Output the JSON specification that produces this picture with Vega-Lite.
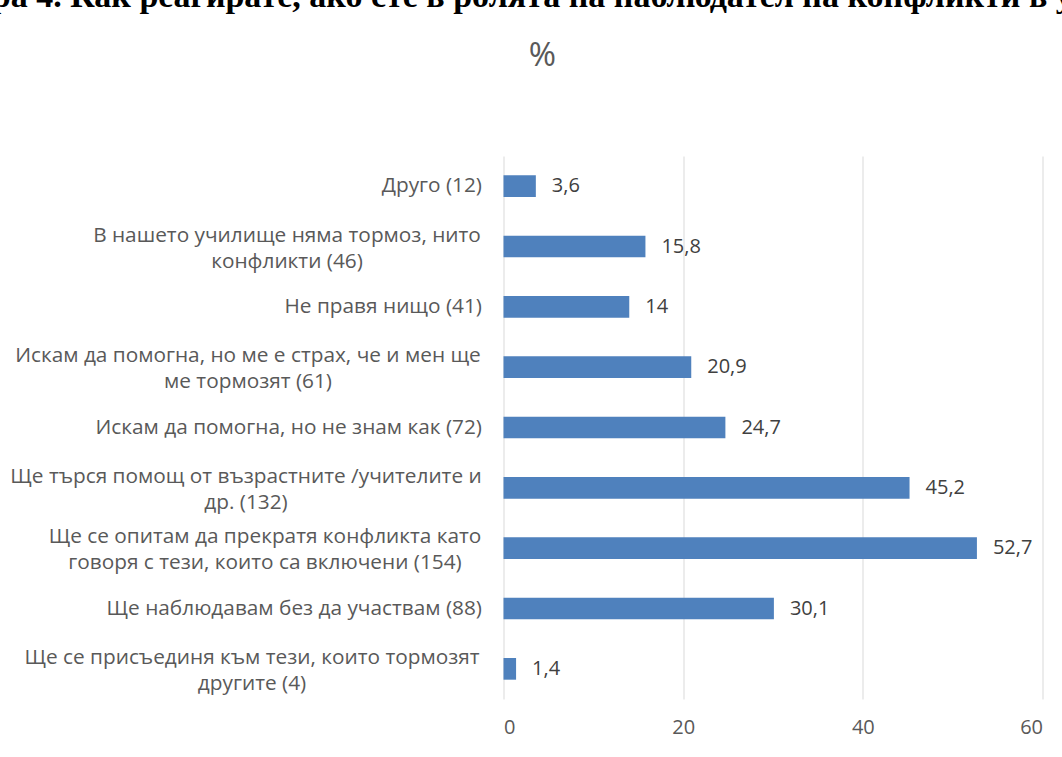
{
  "$schema": "https://vega.github.io/schema/vega-lite/v6.json",
  "width": 539,
  "height": 543,
  "autosize": {"type": "none"},
  "padding": {"left": 503.5, "top": 156, "right": 19.5, "bottom": 58},
  "background": "white",
  "config": {
    "view": {"stroke": null},
    "locale": {"number": {"decimal": ",", "thousands": " ", "grouping": [3], "currency": ["", ""]}}
  },
  "title": {
    "text": "Фигура 4. Как реагирате, ако сте в ролята на наблюдател на конфликти в училище?",
    "anchor": "start",
    "frame": "group",
    "dx": -593,
    "dy": 19,
    "baseline": "alphabetic",
    "font": "Liberation Serif",
    "fontSize": 34,
    "fontWeight": "bold",
    "color": "#000000",
    "offset": 17
  },
  "data": {
    "values": [
      {"cat": "Друго (12)", "pct": 3.6},
      {"cat": "В нашето училище няма тормоз, нито|конфликти (46)", "pct": 15.8},
      {"cat": "Не правя нищо (41)", "pct": 14},
      {"cat": "Искам да помогна, но ме е страх, че и мен ще|ме тормозят (61)", "pct": 20.9},
      {"cat": "Искам да помогна, но не знам как (72)", "pct": 24.7},
      {"cat": "Ще търся помощ от възрастните /учителите и|др. (132)", "pct": 45.2},
      {"cat": "Ще се опитам да прекратя конфликта като|говоря с тези, които са включени (154)", "pct": 52.7},
      {"cat": "Ще наблюдавам без да участвам (88)", "pct": 30.1},
      {"cat": "Ще се присъединя към тези, които тормозят|другите (4)", "pct": 1.4}
    ]
  },
  "encoding": {
    "y": {
      "field": "cat",
      "type": "nominal",
      "sort": null,
      "scale": {"paddingInner": 0.64, "paddingOuter": 0.32},
      "axis": {
        "title": null,
        "domain": false,
        "ticks": false,
        "labelExpr": "split(datum.label, '|')",
        "labelFont": "Open Sans",
        "labelFontSize": 20.8,
        "labelColor": "#595959",
        "labelAlign": {"condition": {"test": "indexof(datum.value, '|') >= 0", "value": "center"}, "value": "right"},
        "labelOffset": {"condition": {"test": "indexof(datum.value, '|') >= 0", "value": -11}, "value": 0},
        "labelPadding": {
          "condition": [
            {"test": "indexof(datum.value, 'В нашето') == 0", "value": 217},
            {"test": "indexof(datum.value, 'Искам да помогна, но ме') == 0", "value": 256},
            {"test": "indexof(datum.value, 'Ще търся') == 0", "value": 258},
            {"test": "indexof(datum.value, 'Ще се опитам') == 0", "value": 239},
            {"test": "indexof(datum.value, 'Ще се присъединя') == 0", "value": 252}
          ],
          "value": 22
        },
        "labelLineHeight": 26,
        "labelLimit": 600
      }
    }
  },
  "resolve": {"axis": {"x": "independent"}},
  "layer": [
    {
      "mark": {"type": "bar", "color": "#4f81bd"},
      "encoding": {
        "x": {
          "field": "pct",
          "type": "quantitative",
          "scale": {"domain": [0, 60]},
          "axis": {
            "values": [0, 20, 40, 60],
            "grid": true,
            "gridColor": "#d9d9d9",
            "gridWidth": 1,
            "domain": false,
            "ticks": false,
            "labelFont": "Open Sans",
            "labelFontSize": 20,
            "labelColor": "#595959",
            "labelPadding": 18,
            "title": null
          }
        }
      }
    },
    {
      "mark": {"type": "text", "align": "left", "baseline": "middle", "dx": 16, "font": "Open Sans", "fontSize": 20, "color": "#404040"},
      "encoding": {
        "x": {
          "field": "pct",
          "type": "quantitative",
          "scale": {"domain": [0, 60]},
          "axis": {
            "orient": "top",
            "grid": false,
            "labels": false,
            "ticks": false,
            "domain": false,
            "title": "%",
            "titleFont": "Open Sans",
            "titleFontSize": 33,
            "titleFontWeight": "normal",
            "titleColor": "#595959",
            "titleX": 38.5,
            "titleY": -91,
            "titleAlign": "center",
            "titleBaseline": "alphabetic"
          }
        },
        "text": {"field": "pct", "type": "quantitative", "format": ".3~g"}
      }
    }
  ]
}
